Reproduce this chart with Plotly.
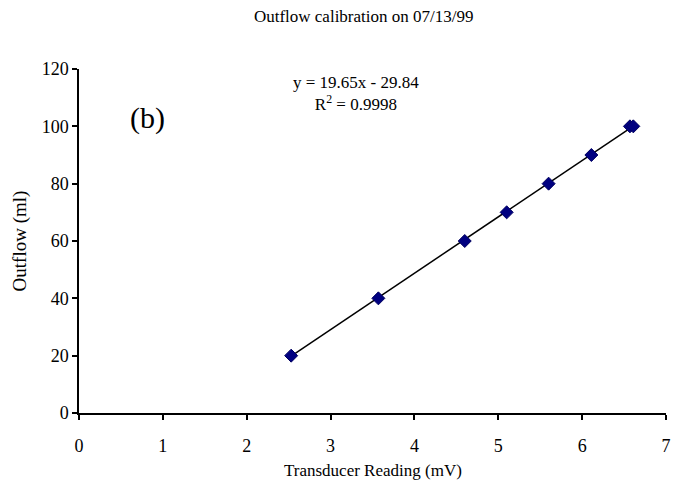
import plotly.graph_objects as go

readings_mv = [2.53, 3.57, 4.60, 5.10, 5.60, 6.11, 6.57, 6.61]
outflow_ml = [20, 40, 60, 70, 80, 90, 100, 100]
slope = 19.65
intercept = -29.84
x_ticks = [0, 1, 2, 3, 4, 5, 6, 7]
y_ticks = [0, 20, 40, 60, 80, 100, 120]

FONT = "Liberation Serif, Times New Roman, serif"

line_x = [min(readings_mv), max(readings_mv)]
line_y = [slope * v + intercept for v in line_x]

fig = go.Figure()
fig.add_trace(go.Scatter(x=line_x, y=line_y, mode="lines",
                         line=dict(color="black", width=1.5), showlegend=False))
fig.add_trace(go.Scatter(x=readings_mv, y=outflow_ml, mode="markers",
                         marker=dict(symbol="diamond", size=10, color="#000080",
                                     line=dict(color="#000060", width=1)),
                         showlegend=False))

fig.add_annotation(text="y = 19.65x - 29.84<br>R<sup>2</sup> = 0.9998",
                   x=3.30, y=111.5, xref="x", yref="y", showarrow=False,
                   yanchor="middle", xanchor="center", align="center",
                   font=dict(family=FONT, size=17, color="black"))
fig.add_annotation(text="(b)", x=0.82, y=103, xref="x", yref="y", showarrow=False,
                   xanchor="center", yanchor="middle",
                   font=dict(family=FONT, size=30, color="black"))
fig.add_annotation(text="Transducer Reading (mV)", x=0.5, xref="paper",
                   y=-0.168, yref="paper", showarrow=False,
                   xanchor="center", yanchor="middle",
                   font=dict(family=FONT, size=17, color="black"))

fig.update_layout(
    width=689, height=494,
    margin=dict(l=71, r=31, t=61, b=89),
    paper_bgcolor="white", plot_bgcolor="white",
    font=dict(family=FONT, size=18, color="black"),
    title=dict(text="Outflow calibration on 07/13/99", x=0.485, xanchor="center",
               xref="paper", y=1.0, yref="container", yanchor="top",
               pad=dict(t=2),
               font=dict(family=FONT, size=17, color="black")),
    xaxis=dict(range=[0, 7], tickvals=x_ticks, showgrid=False, zeroline=False,
               showline=True, linecolor="black", linewidth=1.5, automargin=False,
               ticks="outside", ticklen=5, tickcolor="black", tickwidth=1.5,
               ticklabelstandoff=11,
               tickfont=dict(family=FONT, size=18)),
    yaxis=dict(range=[0, 120], tickvals=y_ticks, showgrid=False, zeroline=False,
               showline=True, linecolor="black", linewidth=1.5, automargin=False,
               ticks="outside", ticklen=5, tickcolor="black", tickwidth=1.5,
               title=dict(text="Outflow (ml)", font=dict(family=FONT, size=19), standoff=10),
               tickfont=dict(family=FONT, size=18)),
)

fig.write_html("out.html")
